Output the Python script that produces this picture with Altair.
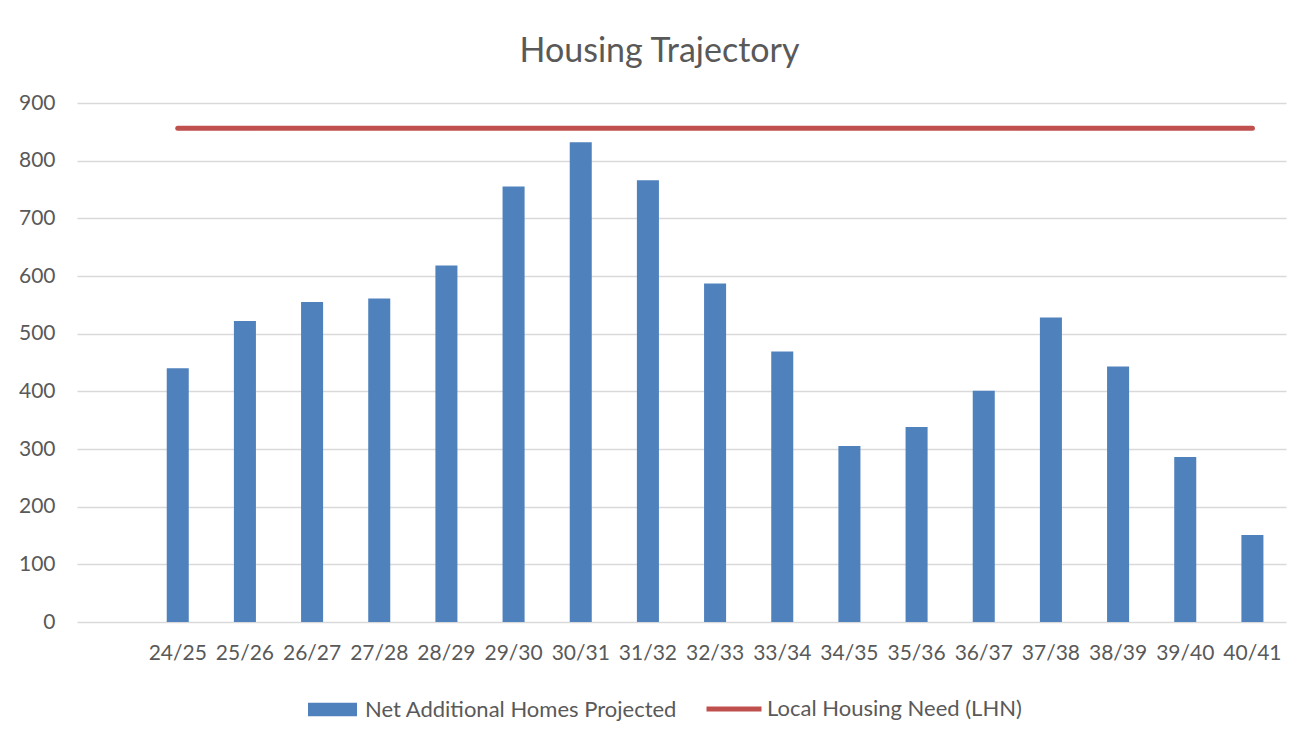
import altair as alt
import pandas as pd

categories = ["24/25", "25/26", "26/27", "27/28", "28/29", "29/30", "30/31", "31/32",
              "32/33", "33/34", "34/35", "35/36", "36/37", "37/38", "38/39", "39/40", "40/41"]
homes = [440, 522, 555, 561, 618, 755, 832, 766, 587, 469, 305, 338, 401, 528, 443, 286, 151]
lhn = [856, 856, 856, 856, 856, 856, 856, 856, 856, 856, 856, 856, 856, 856, 856, 856, 856]
y_ticks = [0, 100, 200, 300, 400, 500, 600, 700, 800, 900]

BAR_NAME = "Net Additional Homes Projected"
LINE_NAME = "Local Housing Need (LHN)"
TEXT = "#595959"
FONT = "Lato"

bars_df = pd.DataFrame({"year": categories, "value": homes, "series": BAR_NAME})
line_df = pd.DataFrame({"year": categories, "value": lhn, "series": LINE_NAME})

x_domain = [" "] + categories

x_enc = alt.X(
    "year:N",
    sort=x_domain,
    scale=alt.Scale(domain=x_domain, paddingInner=0.672, paddingOuter=0.336),
    axis=alt.Axis(title=None, labelAngle=0, ticks=False, tickSize=0, domain=False,
                  grid=False, labelPadding=20, labelFont=FONT, labelFontSize=21,
                  labelColor=TEXT),
)
y_enc = alt.Y(
    "value:Q",
    scale=alt.Scale(domain=[0, 900], nice=False),
    axis=alt.Axis(title=None, values=y_ticks, ticks=False, tickSize=0, domain=False,
                  grid=True, gridColor="#D9D9D9", gridWidth=1.3, labelPadding=22,
                  labelFont=FONT, labelFontSize=21, labelColor=TEXT),
)

bars = alt.Chart(bars_df).mark_bar(color="#4F81BD").encode(
    x=x_enc,
    y=y_enc,
    color=alt.Color(
        "series:N",
        scale=alt.Scale(domain=[BAR_NAME], range=["#4F81BD"]),
        legend=alt.Legend(orient="none", legendX=231, legendY=582, title=None,
                          symbolType="M-1,-0.28H1V0.28H-1Z", symbolSize=2401,
                          symbolStrokeWidth=0, symbolOpacity=1, labelLimit=500,
                          labelFont=FONT, labelFontSize=22, labelColor=TEXT,
                          labelOffset=8),
    ),
)

line = alt.Chart(line_df).mark_line(strokeWidth=5, strokeCap="round").encode(
    x=x_enc,
    y=y_enc,
    color=alt.Color(
        "series:N",
        scale=alt.Scale(domain=[LINE_NAME], range=["#C0504D"]),
        legend=alt.Legend(orient="none", legendX=627, legendY=576, title=None,
                          symbolType="stroke", symbolSize=3025, symbolStrokeWidth=5,
                          labelLimit=500,
                          labelFont=FONT, labelFontSize=22, labelColor=TEXT,
                          labelOffset=3),
    ),
)

chart = alt.layer(bars, line).resolve_scale(color="independent").properties(
    width=1209,
    height=519,
    padding={"left": 69, "top": 95, "right": 20, "bottom": 110},
    autosize=alt.AutoSizeParams(type="none"),
    title=alt.TitleParams("Housing Trajectory", font=FONT, fontSize=34,
                          fontWeight="normal", color=TEXT, anchor="middle",
                          baseline="alphabetic", offset=-4, dx=-22),
).configure_view(stroke=None)

chart.save("out.html", embed_options={"renderer": "svg", "actions": False})
